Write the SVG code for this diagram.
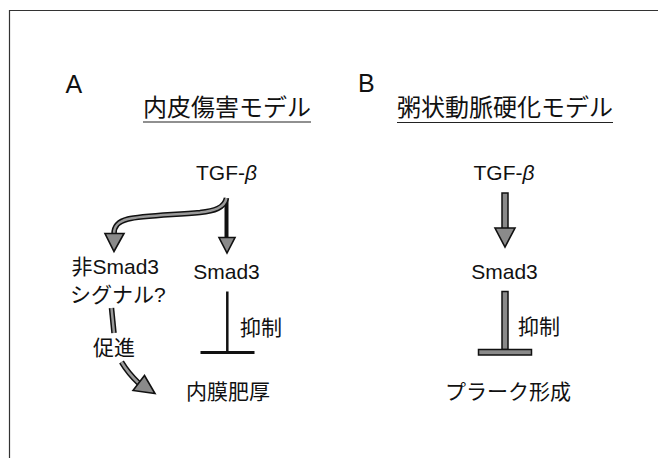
<svg xmlns="http://www.w3.org/2000/svg" width="658" height="458" viewBox="0 0 658 458">
<style>
.lat{font-family:"Liberation Sans",Arial,sans-serif;fill:#111}
.jp{font-family:"Noto Sans CJK JP","Noto Sans CJK SC",sans-serif;fill:#111}
.s21{font-size:21px}
.h{font-size:24px}
.pl{font-size:25px}
.frame{stroke:#333;stroke-width:1.2;fill:none}
.ul{stroke:#222;stroke-width:1.2}
.outer{fill:none;stroke:#111;stroke-width:5.5;stroke-linecap:butt}
.inner{fill:none;stroke:#9a9a9a;stroke-width:2.5;stroke-linecap:butt}
.head{fill:#8a8a8a;stroke:#111;stroke-width:1.6;stroke-linejoin:miter}
.solid{stroke:#111;fill:none}
</style>
<rect width="658" height="458" fill="#fff"/>
<path class="frame" d="M9.5,458 V10.5 H658"/>

<g id="panel-labels">
<text class="lat pl" x="65.5" y="93">A</text>
<text class="lat pl" x="358" y="92">B</text>
</g>

<g id="title-A">
<text class="jp h" x="143" y="115.5">内皮傷害モデル</text>
<line class="ul" x1="143" y1="122" x2="311" y2="122"/>
</g>
<g id="title-B">
<text class="jp h" x="397" y="115.5">粥状動脈硬化モデル</text>
<line class="ul" x1="397" y1="122.5" x2="613" y2="122.5"/>
</g>

<g id="connectors">
<!-- A: TGF-beta to Smad3 -->
<line class="solid" x1="226.5" y1="198" x2="226.5" y2="238" stroke-width="4"/>
<polygon class="head" points="219,237.5 235,237.5 227,253"/>
<!-- A: TGF-beta to non-Smad3 (curved) -->
<path class="outer" d="M226.5,198 C224.5,208 214,211 200,212.5 C170,215 140,216 128,219 C118,221.5 114,226 114,234"/>
<path class="inner" d="M226.5,198 C224.5,208 214,211 200,212.5 C170,215 140,216 128,219 C118,221.5 114,226 114,234"/>
<polygon class="head" points="105,233.5 124,233.5 114,251.5"/>
<!-- A: non-Smad3 to intimal thickening (promote) -->
<path class="outer" d="M111.5,308 L114,333"/>
<path class="inner" d="M111.5,308 L114,333"/>
<path class="outer" d="M121.5,362 Q128,373 139,383.5"/>
<path class="inner" d="M121.5,362 Q128,373 139,383.5"/>
<polygon class="head" points="133,390.5 144.5,375.5 155,393.5"/>
<!-- A: Smad3 inhibits -->
<line class="solid" x1="227.3" y1="291.5" x2="227.3" y2="352" stroke-width="2.5"/>
<line class="solid" x1="200.5" y1="352.5" x2="254.5" y2="352.5" stroke-width="3"/>
<!-- B: TGF-beta to Smad3 -->
<rect x="502" y="193" width="6" height="36" fill="#8a8a8a" stroke="#111" stroke-width="1.5"/>
<polygon class="head" points="495,228 515,228 505,247"/>
<!-- B: Smad3 inhibits -->
<rect x="502" y="291.5" width="6" height="58" fill="#8a8a8a" stroke="#111" stroke-width="1.5"/>
<rect x="478.5" y="349.5" width="53" height="5.5" fill="#8a8a8a" stroke="#111" stroke-width="1.5"/>
</g>

<g id="A-tgfb"><text class="lat s21" x="226.5" y="180" text-anchor="middle">TGF-<tspan font-style="italic">β</tspan></text></g>
<g id="A-smad3"><text class="lat s21" x="226.5" y="279" text-anchor="middle">Smad3</text></g>
<g id="A-nonsmad3">
<text class="s21" x="71.5" y="273.5"><tspan class="jp">非</tspan><tspan class="lat">Smad3</tspan></text>
<text class="s21" x="70" y="302"><tspan class="jp">シグナル</tspan><tspan class="lat">?</tspan></text>
</g>
<g id="A-promote"><text class="jp s21" x="93" y="355">促進</text></g>
<g id="A-inhibit"><text class="jp s21" x="240" y="335">抑制</text></g>
<g id="A-intima"><text class="jp s21" x="186" y="398.5">内膜肥厚</text></g>

<g id="B-tgfb"><text class="lat s21" x="504" y="180" text-anchor="middle">TGF-<tspan font-style="italic">β</tspan></text></g>
<g id="B-smad3"><text class="lat s21" x="504.5" y="279" text-anchor="middle">Smad3</text></g>
<g id="B-inhibit"><text class="jp s21" x="518" y="334">抑制</text></g>
<g id="B-plaque"><text class="jp s21" x="445" y="398.5">プラーク形成</text></g>
</svg>
